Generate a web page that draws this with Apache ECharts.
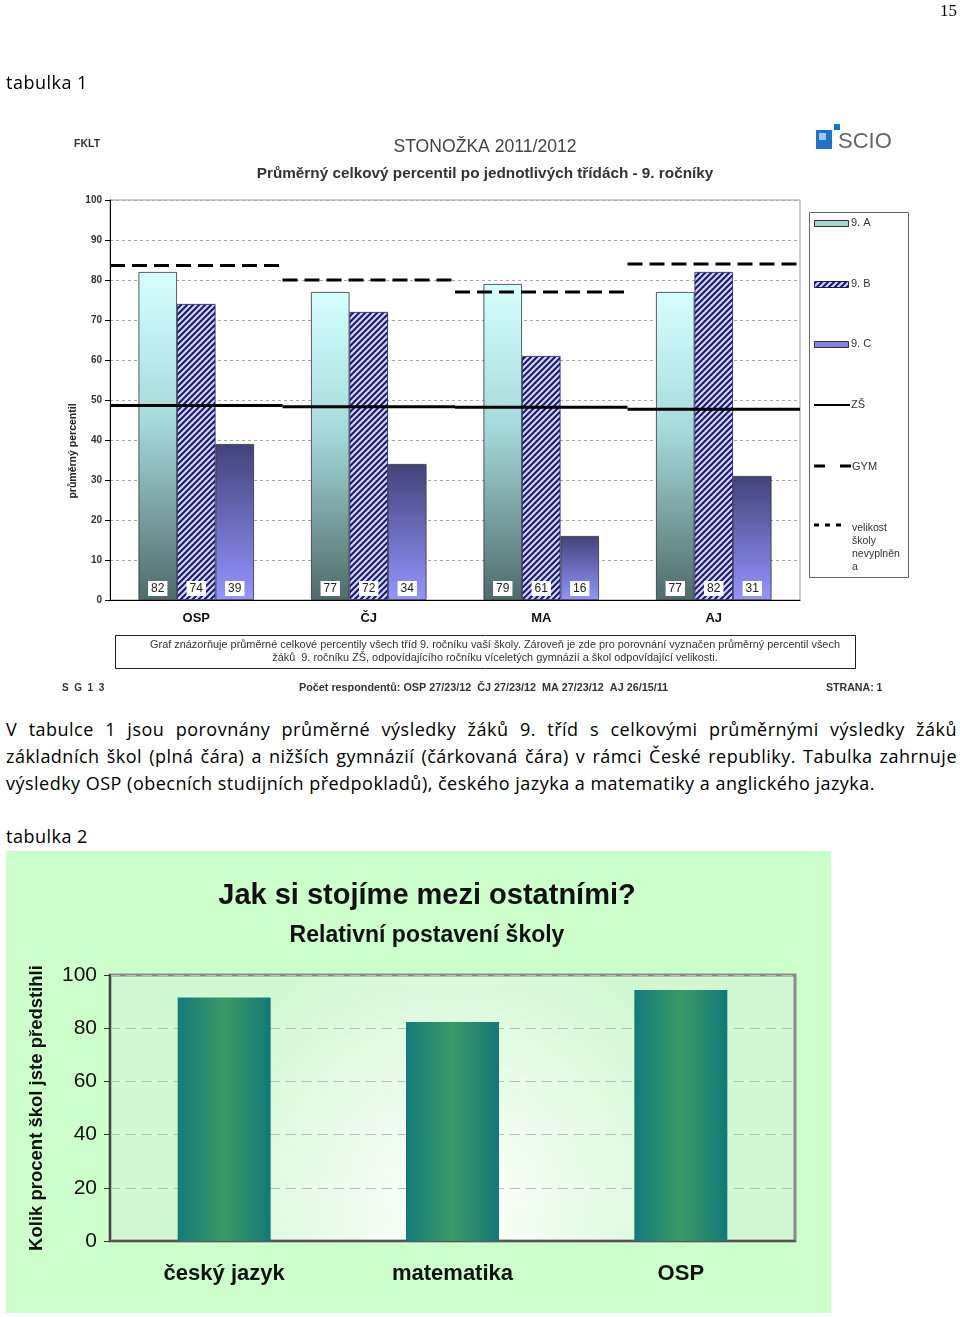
<!DOCTYPE html>
<html><head><meta charset="utf-8">
<script src="https://cdn.jsdelivr.net/npm/echarts@6/dist/echarts.min.js"></script>
<style>
html,body{margin:0;padding:0;background:#fff;width:960px;height:1317px;overflow:hidden;position:relative;}
.t{position:absolute;font-family:'Open Sans',Lato,sans-serif;color:#000;white-space:nowrap;font-size:18px;line-height:27px;z-index:5;}
.pl{position:absolute;left:6px;width:951px;font-family:'Open Sans',Lato,sans-serif;font-size:18px;line-height:27px;color:#000;text-align:justify;text-align-last:justify;z-index:5;}
#c1{position:absolute;left:0;top:0;width:960px;height:692px;}
#c2{position:absolute;left:6px;top:851px;width:825px;height:462px;background:#ccffcc;}
</style></head>
<body>
<div class="t" style="left:940px;top:-3px;font-family:'Liberation Serif',serif;font-size:17px;">15</div>
<div class="t" id="tab1" style="left:6px;top:69px;">tabulka 1</div>
<div id="c1"></div>
<div class="pl" style="top:716px;">V tabulce 1 jsou porovnány průměrné výsledky žáků 9. tříd s celkovými průměrnými výsledky žáků</div>
<div class="pl" style="top:743px;">základních škol (plná čára) a nižších gymnázií (čárkovaná čára) v rámci České republiky. Tabulka zahrnuje</div>
<div class="pl" id="p3" style="top:770px;text-align:left;text-align-last:left;"><span id="p3s" style="white-space:nowrap;">výsledky OSP (obecních studijních předpokladů), českého jazyka a matematiky a anglického jazyka.</span></div>
<div class="t" id="tab2" style="left:6px;top:823px;">tabulka 2</div>
<div id="c2"></div>
<script>
// ---- data: chart 1 ----
const categories1 = ['OSP', 'ČJ', 'MA', 'AJ'];
const class9A = [82, 77, 79, 77];
const class9B = [74, 72, 61, 82];
const class9C = [39, 34, 16, 31];
const zsAvg = [48.6, 48.3, 48.2, 47.7];
const gymAvg = [83.6, 80, 77, 84];
// ---- data: chart 2 ----
const categories2 = ['český jazyk', 'matematika', 'OSP'];
const rankValues = [91.5, 82.3, 94.4];

// fit paragraph text width to the page column (layout only)
(function () {
  const s = document.getElementById('p3s');
  const w = s.getBoundingClientRect().width;
  const n = s.textContent.length;
  const ls = (869 - w) / n;
  document.querySelectorAll('.pl').forEach(e => e.style.letterSpacing = ls + 'px');
  ['tab1', 'tab2'].forEach(id => document.getElementById(id).style.letterSpacing = ls + 'px');
})();

const F = "'Liberation Sans', Arial, sans-serif";

function hatchCanvas() {
  const c = document.createElement('canvas'); c.width = 6; c.height = 6;
  const g = c.getContext('2d');
  g.fillStyle = '#d4d4ff'; g.fillRect(0, 0, 6, 6);
  g.strokeStyle = '#1c1c66'; g.lineWidth = 2.1;
  g.beginPath();
  g.moveTo(-1, 7); g.lineTo(7, -1);
  g.moveTo(-1, 1); g.lineTo(1, -1);
  g.moveTo(5, 7); g.lineTo(7, 5);
  g.stroke();
  return c;
}
const hatch = { image: hatchCanvas(), repeat: 'repeat' };
const gradA = { type: 'linear', x: 0, y: 0, x2: 0, y2: 1, colorStops: [
  { offset: 0, color: '#d6ffff' }, { offset: 0.45, color: '#a6dada' }, { offset: 1, color: '#4f6a6a' }] };
const gradC = { type: 'linear', x: 0, y: 0, x2: 0, y2: 1, colorStops: [
  { offset: 0, color: '#43437a' }, { offset: 1, color: '#9494ff' }] };

function segment(width, dash) {
  return function (params, api) {
    const p = api.coord([api.value(0), api.value(1)]);
    const bw = api.size([1, 0])[0];
    return { type: 'line', shape: { x1: p[0] - bw / 2, y1: p[1], x2: p[0] + bw / 2, y2: p[1] },
      style: { stroke: '#000', lineWidth: width, lineDash: dash } };
  };
}

const barLabel = { show: true, position: 'insideBottom', distance: 4, backgroundColor: '#fff',
  padding: [2, 3, 1, 3], color: '#222', fontSize: 12, fontFamily: F };
const barBase = { type: 'bar', barWidth: 38.5, barGap: '0%', label: barLabel };

function txt(x, y, text, font, align, fill, extra) {
  return Object.assign({ type: 'text', x: x, y: y, z: 10,
    style: { text: text, font: font, fill: fill || '#333', align: align || 'left', verticalAlign: 'middle' } }, extra || {});
}

const c1 = echarts.init(document.getElementById('c1'));
c1.setOption({
  animation: false,
  grid: { left: 110, top: 200, width: 690, height: 400, show: true, borderColor: '#9a9a9a', borderWidth: 1 },
  xAxis: { type: 'category', data: categories1,
    axisLine: { lineStyle: { color: '#000', width: 1 } },
    axisTick: { length: 5, lineStyle: { color: '#000' } },
    axisLabel: { fontSize: 13, fontWeight: 'bold', color: '#111', margin: 12, fontFamily: F } },
  yAxis: { type: 'value', min: 0, max: 100, interval: 10,
    axisLine: { show: true, lineStyle: { color: '#000' } },
    axisTick: { show: true, length: 5, lineStyle: { color: '#000' } },
    axisLabel: { fontSize: 10, fontWeight: 'bold', color: '#333', margin: 8, fontFamily: F },
    splitLine: { lineStyle: { color: '#a8a8a8', type: [3, 3] } } },
  series: [
    Object.assign({}, barBase, { name: '9. A', data: class9A, itemStyle: { color: gradA, borderColor: '#333', borderWidth: 0.8 } }),
    Object.assign({}, barBase, { name: '9. B', data: class9B, itemStyle: { color: hatch, borderColor: '#1c1c66', borderWidth: 0.8 } }),
    Object.assign({}, barBase, { name: '9. C', data: class9C, itemStyle: { color: gradC, borderColor: '#333', borderWidth: 0.8 } }),
    { type: 'custom', name: 'ZŠ', z: 5, data: zsAvg.map((v, i) => [i, v]), renderItem: segment(3, null), encode: { x: 0, y: 1 } },
    { type: 'custom', name: 'GYM', z: 5, data: gymAvg.map((v, i) => [i, v]), renderItem: segment(3, [15, 7]), encode: { x: 0, y: 1 } }
  ],
  graphic: [
    txt(74, 144, 'FKLT', 'bold 10.5px ' + F, 'left', '#333'),
    txt(485, 147, 'STONOŽKA 2011/2012', '17.6px ' + F, 'center', '#444'),
    txt(485, 174, 'Průměrný celkový percentil po jednotlivých třídách - 9. ročníky', 'bold 15.3px ' + F, 'center', '#333'),
    { type: 'text', x: 73, y: 451, rotation: Math.PI / 2, z: 10,
      style: { text: 'průměrný percentil', font: 'bold 10.5px ' + F, fill: '#222', align: 'center', verticalAlign: 'middle' } },
    // logo
    { type: 'rect', shape: { x: 816, y: 130, width: 16, height: 19 }, style: { fill: '#1e73c8' }, z: 10 },
    { type: 'rect', shape: { x: 819, y: 133, width: 7, height: 7 }, style: { fill: '#9cc6ee' }, z: 11 },
    { type: 'rect', shape: { x: 834, y: 124, width: 6, height: 6 }, style: { fill: '#1e73c8' }, z: 10 },
    txt(838, 142, 'SCIO', '22px ' + F, 'left', '#666'),
    // legend
    { type: 'rect', shape: { x: 809.5, y: 212.5, width: 99, height: 365 }, style: { fill: '#fff', stroke: '#666', lineWidth: 1 }, z: 9 },
    { type: 'rect', shape: { x: 814.5, y: 220.5, width: 34, height: 6 }, style: { fill: '#a6d6d2', stroke: '#333', lineWidth: 1 }, z: 10 },
    txt(851, 223, '9. A', '11px ' + F),
    { type: 'rect', shape: { x: 814.5, y: 281.5, width: 34, height: 6 }, style: { fill: hatch, stroke: '#1c1c66', lineWidth: 1 }, z: 10 },
    txt(851, 284, '9. B', '11px ' + F),
    { type: 'rect', shape: { x: 814.5, y: 341.5, width: 34, height: 6 }, style: { fill: '#8484e6', stroke: '#333', lineWidth: 1 }, z: 10 },
    txt(851, 344, '9. C', '11px ' + F),
    { type: 'line', shape: { x1: 814, y1: 405, x2: 850, y2: 405 }, style: { stroke: '#000', lineWidth: 2 }, z: 10 },
    txt(851, 405, 'ZŠ', '11px ' + F),
    { type: 'line', shape: { x1: 814, y1: 466, x2: 851, y2: 466 }, style: { stroke: '#000', lineWidth: 3, lineDash: [11, 15] }, z: 10 },
    txt(852, 467, 'GYM', '11px ' + F),
    { type: 'line', shape: { x1: 814, y1: 525, x2: 845, y2: 525 }, style: { stroke: '#000', lineWidth: 3, lineDash: [5, 6] }, z: 10 },
    { type: 'text', x: 852, y: 521, z: 10, style: { text: 'velikost\nškoly\nnevyplněn\na', font: '10.5px ' + F, fill: '#333', lineHeight: 13.3, align: 'left', verticalAlign: 'top' } },
    // caption box
    { type: 'rect', shape: { x: 115.5, y: 635.5, width: 740, height: 33 }, style: { fill: '#fff', stroke: '#222', lineWidth: 1 }, z: 9 },
    txt(495, 645, 'Graf znázorňuje průměrné celkové percentily všech tříd 9. ročníku vaší školy. Zároveň je zde pro porovnání vyznačen průměrný percentil všech', '10.9px ' + F, 'center', '#333'),
    txt(495, 658, 'žáků  9. ročníku ZŠ, odpovídajícího ročníku víceletých gymnázií a škol odpovídající velikosti.', '10.9px ' + F, 'center', '#333'),
    // footer
    txt(62, 688, 'S  G  1  3', 'bold 10px ' + F, 'left', '#333'),
    txt(299, 688, 'Počet respondentů: OSP 27/23/12  ČJ 27/23/12  MA 27/23/12  AJ 26/15/11', 'bold 10.8px ' + F, 'left', '#333'),
    txt(826, 688, 'STRANA: 1', 'bold 10.6px ' + F, 'left', '#333')
  ]
});

const gradBar = { type: 'linear', x: 0, y: 0, x2: 1, y2: 0, colorStops: [
  { offset: 0, color: '#137a7c' }, { offset: 0.5, color: '#3c9a66' }, { offset: 1, color: '#127878' }] };

const c2 = echarts.init(document.getElementById('c2'));
c2.setOption({
  animation: false,
  grid: { left: 104, top: 124, width: 685, height: 266, show: true, borderColor: '#8a8a8a', borderWidth: 3,
    backgroundColor: { type: 'radial', x: 0.5, y: 0.85, r: 1.0, colorStops: [
      { offset: 0, color: '#ffffff' }, { offset: 1, color: '#d2f8d2' }] } },
  xAxis: { type: 'category', data: categories2,
    axisLine: { lineStyle: { color: '#555', width: 2 } },
    axisTick: { length: 6, lineStyle: { color: '#333' } },
    axisLabel: { fontSize: 22, fontWeight: 'bold', color: '#111', margin: 22, fontFamily: F } },
  yAxis: { type: 'value', min: 0, max: 100, interval: 20,
    name: 'Kolik procent škol jste předstihli', nameLocation: 'middle', nameGap: 64,
    nameTextStyle: { fontSize: 18.5, fontWeight: 'bold', color: '#111', fontFamily: F },
    axisLine: { show: true, lineStyle: { color: '#444', width: 2 } },
    axisTick: { show: true, length: 6, lineStyle: { color: '#333' } },
    axisLabel: { fontSize: 21, color: '#111', margin: 13, fontFamily: F },
    splitLine: { lineStyle: { color: '#bdbdbd', type: [10, 6] } } },
  series: [{ type: 'bar', data: rankValues, barWidth: 93, itemStyle: { color: gradBar } }],
  graphic: [
    txt(421, 45, 'Jak si stojíme mezi ostatními?', 'bold 29px ' + F, 'center', '#111'),
    txt(421, 85, 'Relativní postavení školy', 'bold 23px ' + F, 'center', '#111')
  ]
});
</script>
</body></html>
